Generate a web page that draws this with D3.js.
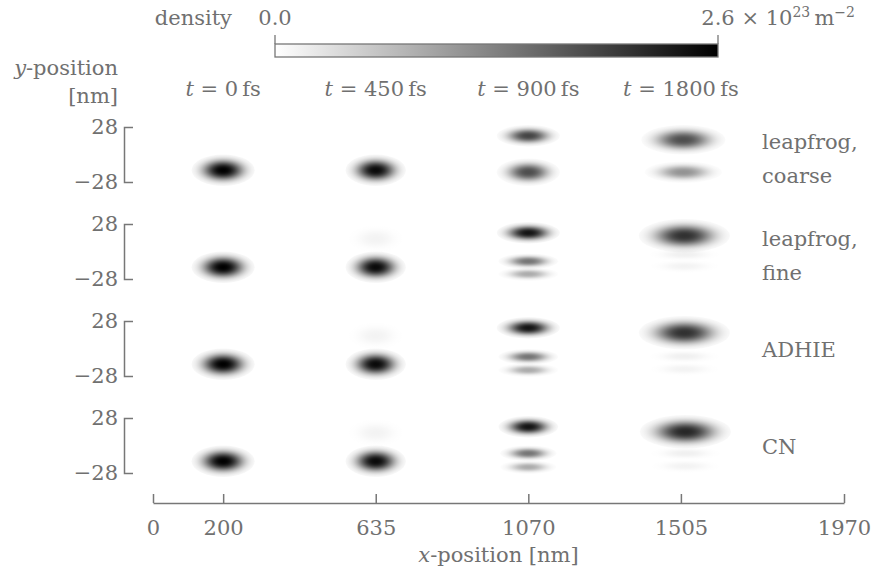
<!DOCTYPE html>
<html>
<head>
<meta charset="utf-8">
<script src="https://cdn.jsdelivr.net/npm/d3@7"></script>
<style>
  body { margin: 0; background: #fff; }
  svg text { font-family: "DejaVu Serif", serif; fill: #707070; font-size: 21px; }
</style>
</head>
<body>
<div id="chart"></div>
<script>
// snapshot times (fs) and where each packet column sits (nm)
const times = [0, 450, 900, 1800];
const columnX = [200, 635, 1070, 1505];
const methods = [["leapfrog,", "coarse"], ["leapfrog,", "fine"], ["ADHIE"], ["CN"]];
const xTicks = [0, 200, 635, 1070, 1505, 1970];
const yTicks = [-28, 28];
const densityMax = 2.6; // 10^23 m^-2

// density blobs, one row per method: [x nm, y nm, rx nm, ry nm, peak density]
const coarseBlobs = [
  [200, -16, 90, 16, 2.6],
  [635, -16, 86, 16, 2.5],
  [1070, 19, 90, 11, 1.9],
  [1070, -18, 90, 14, 1.8],
  [1512, 15, 120, 15, 1.8],
  [1512, -18, 110, 11, 1.1]
];
const fineBlobs = [
  [200, -16, 90, 16, 2.6],
  [635, -16, 86, 16, 2.5],
  [635, 13, 80, 14, 0.12],
  [1070, 19, 90, 11, 2.4],
  [1070, -10, 85, 8, 1.4],
  [1070, -23, 85, 7, 0.85],
  [1515, 16, 130, 17, 2.1],
  [1515, -3, 100, 7, 0.15],
  [1515, -15, 100, 7, 0.12]
];
const adhieBlobs = [
  [200, -16, 90, 16, 2.6],
  [635, -16, 86, 16, 2.5],
  [635, 13, 80, 14, 0.12],
  [1070, 21, 90, 11, 2.4],
  [1070, -8.5, 85, 8, 1.4],
  [1070, -22, 85, 7, 0.85],
  [1515, 16, 130, 17, 2.1],
  [1515, -8, 100, 7, 0.15],
  [1515, -21, 100, 7, 0.12]
];
const cnBlobs = [
  [200, -16, 90, 16, 2.6],
  [635, -16, 86, 16, 2.5],
  [635, 13, 80, 14, 0.12],
  [1070, 19, 85, 11, 2.4],
  [1070, -8, 80, 8, 1.4],
  [1070, -22, 80, 7, 0.85],
  [1518, 14, 130, 17, 2.2],
  [1518, -8, 100, 7, 0.15],
  [1518, -21, 100, 7, 0.12]
];
const panelBlobs = [coarseBlobs, fineBlobs, adhieBlobs, cnBlobs];

function PlotGraph(parent_element = "chart") {
  const width = 874, height = 576;
  const grey = "#777";

  const svg = d3.select("#" + parent_element).append("svg")
    .attr("width", width)
    .attr("height", height);

  const defs = svg.append("defs");

  // soft radial falloff shared by all blobs
  const blob = defs.append("radialGradient").attr("id", "blob");
  d3.range(0, 1.0001, 0.05).forEach(r => {
    blob.append("stop")
      .attr("offset", r)
      .attr("stop-color", "#000")
      .attr("stop-opacity", Math.exp(-Math.pow(r / 0.6, 2.5)));
  });

  // Scales
  const x = d3.scaleLinear().domain([0, 1970]).range([153, 844]);
  const row = d3.scaleBand().domain(d3.range(methods.length)).range([127, 127 + 4 * 97]);
  const panelHeight = 55;
  const opacity = d3.scaleLinear().domain([0, densityMax]).range([0, 1]).clamp(true);
  const color = d3.scaleLinear().domain([0, densityMax]).range(["#fff", "#000"]);

  // Colour bar
  const cb = d3.scaleLinear().domain([0, densityMax]).range([275, 718]);
  const cbGrad = defs.append("linearGradient").attr("id", "cbar");
  d3.range(0, 1.0001, 0.1).forEach(t => {
    cbGrad.append("stop")
      .attr("offset", t)
      .attr("stop-color", color(t * densityMax));
  });
  svg.append("rect")
    .attr("x", cb(0))
    .attr("y", 44)
    .attr("width", cb(densityMax) - cb(0))
    .attr("height", 13)
    .attr("fill", "url(#cbar)")
    .attr("stroke", grey)
    .attr("stroke-width", 1.3);
  svg.selectAll(".cbtick")
    .data([0, densityMax])
    .enter().append("line")
    .attr("x1", d => cb(d)).attr("x2", d => cb(d))
    .attr("y1", 35).attr("y2", 44)
    .attr("stroke", grey)
    .attr("stroke-width", 1.3);

  svg.append("text")
    .attr("x", 232).attr("y", 25)
    .attr("text-anchor", "end")
    .text("density");
  svg.append("text")
    .attr("x", cb(0)).attr("y", 25)
    .attr("text-anchor", "middle")
    .text(d3.format(".1f")(0));

  const maxLabel = svg.append("text").attr("y", 25);
  const num = maxLabel.append("tspan").text(d3.format(".1f")(densityMax));
  maxLabel.append("tspan").text(" \u00d7 10");
  maxLabel.append("tspan").attr("dy", -8).style("font-size", "14px").text("23");
  maxLabel.append("tspan").attr("dy", 8).text("\u2009m");
  maxLabel.append("tspan").attr("dy", -8).style("font-size", "14px").text("\u22122");
  maxLabel.attr("x", cb(densityMax) - num.node().getComputedTextLength() / 2);

  // y label
  const ylab = svg.append("text").attr("x", 118).attr("y", 75).attr("text-anchor", "end");
  ylab.append("tspan").style("font-style", "italic").text("y");
  ylab.append("tspan").text("-position");
  svg.append("text").attr("x", 118).attr("y", 103).attr("text-anchor", "end").text("[nm]");

  // time headings
  times.forEach((t, i) => {
    const lab = svg.append("text")
      .attr("x", x(columnX[i]))
      .attr("y", 96)
      .attr("text-anchor", "middle");
    lab.append("tspan").style("font-style", "italic").text("t");
    lab.append("tspan").text(" = " + t + "\u2009fs");
  });

  // Panels
  panelBlobs.forEach((blobs, i) => {
    const top = row(i);
    const y = d3.scaleLinear().domain([-28, 28]).range([top + panelHeight, top]);

    svg.append("g")
      .selectAll("ellipse")
      .data(blobs)
      .enter().append("ellipse")
      .attr("cx", d => x(d[0]))
      .attr("cy", d => y(d[1]))
      .attr("rx", d => x(d[2]) - x(0))
      .attr("ry", d => y(0) - y(d[3]))
      .attr("fill", "url(#blob)")
      .attr("fill-opacity", d => opacity(d[4]));

    const ax = svg.append("g")
      .attr("transform", "translate(124,0)")
      .call(d3.axisLeft(y).tickValues(yTicks).tickSizeInner(0).tickSizeOuter(-9).tickPadding(6));
    ax.select(".domain").attr("stroke", grey).attr("stroke-width", 1.5);
    ax.selectAll("text").attr("fill", "#707070").style("font-size", "21px")
      .style("font-family", "DejaVu Serif, serif");

    const lines = methods[i];
    const offs = lines.length === 2 ? [22, 56] : [36];
    lines.forEach((l, j) => {
      svg.append("text")
        .attr("x", 762)
        .attr("y", top + offs[j])
        .text(l);
    });
  });

  // X axis
  const xa = svg.append("g")
    .attr("transform", "translate(0,503)")
    .call(d3.axisBottom(x).tickValues(xTicks).tickFormat(d3.format("d"))
      .tickSizeInner(-9).tickSizeOuter(0).tickPadding(17));
  xa.select(".domain").attr("stroke", grey).attr("stroke-width", 1.5);
  xa.selectAll(".tick line").attr("stroke", grey).attr("stroke-width", 1.5);
  xa.selectAll("text").attr("fill", "#707070").style("font-size", "21px")
    .style("font-family", "DejaVu Serif, serif");

  const xlab = svg.append("text")
    .attr("x", (x.range()[0] + x.range()[1]) / 2)
    .attr("y", 562)
    .attr("text-anchor", "middle");
  xlab.append("tspan").style("font-style", "italic").text("x");
  xlab.append("tspan").text("-position [nm]");
}

document.addEventListener('DOMContentLoaded', (event) => {
  PlotGraph();
});
</script>
</body>
</html>
